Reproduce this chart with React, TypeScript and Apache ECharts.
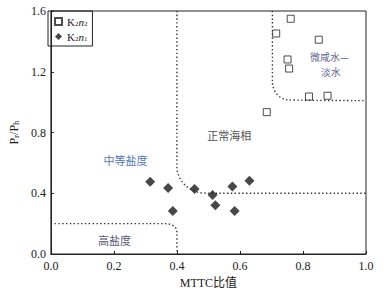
import React, { useEffect, useRef } from "react";
import * as echarts from "echarts";

const xTicks = [0, 0.2, 0.4, 0.6, 0.8, 1.0];
const yTicks = [0, 0.4, 0.8, 1.2, 1.6];

const k2n2: number[][] = [
  [0.761, 1.549],
  [0.715, 1.452],
  [0.85, 1.411],
  [0.751, 1.281],
  [0.756, 1.221],
  [0.819, 1.037],
  [0.878, 1.042],
  [0.685, 0.934],
];

const k2n1: number[][] = [
  [0.315, 0.475],
  [0.372, 0.435],
  [0.387, 0.283],
  [0.456, 0.428],
  [0.513, 0.389],
  [0.522, 0.321],
  [0.576, 0.444],
  [0.583, 0.283],
  [0.63, 0.483],
];

const highSalinityLine: number[][] = [
  [0, 0.2], [0.36, 0.2], [0.38, 0.195], [0.393, 0.18], [0.399, 0.16], [0.4, 0.13], [0.4, 0],
];
const normalMarineLine: number[][] = [
  [0.4, 1.6], [0.4, 0.56], [0.405, 0.52], [0.415, 0.48], [0.43, 0.445], [0.45, 0.42], [0.47, 0.405], [0.5, 0.4], [1, 0.4],
];
const freshWaterLine: number[][] = [
  [0.703, 1.6], [0.703, 1.13], [0.707, 1.09], [0.716, 1.055], [0.73, 1.03], [0.75, 1.015], [1, 1.01],
];

const annotations = [
  { pos: [0.237, 0.62], text: "中等盐度", color: "#2050a8", size: 11 },
  { pos: [0.566, 0.784], text: "正常海相", color: "#222222", size: 11 },
  { pos: [0.884, 1.298], text: "微咸水—", color: "#35397a", size: 10 },
  { pos: [0.888, 1.2], text: "淡水", color: "#35397a", size: 10 },
  { pos: [0.202, 0.092], text: "高盐度", color: "#1c2650", size: 11 },
];

const serif = "Liberation Serif";
const cjk = "Noto Sans CJK SC";

export default function App() {
  const ref = useRef<HTMLDivElement>(null);
  useEffect(() => {
    document.body.style.margin = "0";
    if (!ref.current) return;
    const chart = echarts.init(ref.current, null, { renderer: "svg" });
    const dotted = { color: "#333", width: 1.4, type: [1.4, 2.4] as any };
    const lineSeries = (data: number[][]) => ({
      type: "line",
      data,
      showSymbol: false,
      symbol: "none",
      smooth: 0.3,
      lineStyle: dotted,
      silent: true,
      z: 1,
    });
    chart.setOption({
      animation: false,
      grid: {
        left: 48,
        right: 18,
        top: 11,
        bottom: 40,
        show: true,
        borderColor: "#222",
        borderWidth: 1,
      },
      legend: {
        left: 48,
        top: 11,
        orient: "vertical",
        borderColor: "#222",
        borderWidth: 1,
        borderRadius: 0,
        padding: [5, 5, 4, 6],
        itemGap: 4,
        itemWidth: 7,
        itemHeight: 7,
        data: ["K2n2", "K2n1"],
        formatter: (name: string) =>
          name === "K2n2" ? "K{s|2}{i|n}{s|2}" : "K{s|2}{i|n}{s|1}",
        textStyle: {
          fontFamily: serif,
          fontSize: 11,
          color: "#222",
          rich: {
            s: { fontFamily: serif, fontSize: 7, verticalAlign: "bottom", padding: [4, 0, 0, 0], color: "#222" },
            i: { fontFamily: serif, fontSize: 11, fontStyle: "italic", color: "#222" },
          },
        },
      },
      xAxis: {
        type: "value",
        min: 0,
        max: 1,
        interval: 0.2,
        name: "MTTC比值",
        nameLocation: "middle",
        nameGap: 22,
        nameTextStyle: { fontFamily: `${serif}, ${cjk}`, fontSize: 12, color: "#222" },
        axisLine: { show: true, lineStyle: { color: "#222" } },
        axisTick: { show: true, inside: true, length: 3, lineStyle: { color: "#222" } },
        axisLabel: {
          margin: 6,
          fontFamily: serif,
          fontSize: 12,
          color: "#222",
          formatter: (v: number) => (xTicks.some((t) => Math.abs(t - v) < 1e-9) ? v.toFixed(1) : ""),
        },
        splitLine: { show: false },
      },
      yAxis: {
        type: "value",
        min: 0,
        max: 1.6,
        interval: 0.4,
        name: "P{s|r}/P{s|h}",
        nameLocation: "middle",
        nameGap: 28,
        nameRotate: 90,
        nameTextStyle: {
          fontFamily: serif,
          fontSize: 12,
          color: "#222",
          rich: { s: { fontFamily: serif, fontSize: 9, color: "#222", verticalAlign: "bottom", padding: [3, 0, 0, 0] } },
        },
        axisLine: { show: true, lineStyle: { color: "#222" } },
        axisTick: { show: true, inside: true, length: 3, lineStyle: { color: "#222" } },
        axisLabel: {
          margin: 5,
          fontFamily: serif,
          fontSize: 12,
          color: "#222",
          formatter: (v: number) => (yTicks.some((t) => Math.abs(t - v) < 1e-9) ? v.toFixed(1) : ""),
        },
        splitLine: { show: false },
      },
      series: [
        lineSeries(highSalinityLine),
        lineSeries(normalMarineLine),
        lineSeries(freshWaterLine),
        {
          type: "scatter",
          name: "K2n2",
          data: k2n2,
          symbol: "rect",
          symbolSize: 7,
          itemStyle: { color: "#fff", borderColor: "#222", borderWidth: 1 },
          z: 3,
        },
        {
          type: "scatter",
          name: "K2n1",
          data: k2n1,
          symbol: "diamond",
          symbolSize: 10,
          itemStyle: { color: "#1a1a1a" },
          z: 3,
        },
        {
          type: "scatter",
          name: "labels",
          data: annotations.map((a) => ({
            value: a.pos,
            label: {
              show: true,
              position: "inside",
              formatter: a.text,
              color: a.color,
              textBorderWidth: 0,
              textBorderColor: "transparent",
              fontFamily: cjk,
              fontSize: a.size,
              lineHeight: a.size,
              align: "center",
            },
          })),
          symbolSize: 1,
          itemStyle: { color: "rgba(0,0,0,0)" },
          silent: true,
          z: 4,
        },
      ],
    });
    return () => chart.dispose();
  }, []);
  return <div ref={ref} style={{ width: 384, height: 294, background: "#fff" }} />;
}
